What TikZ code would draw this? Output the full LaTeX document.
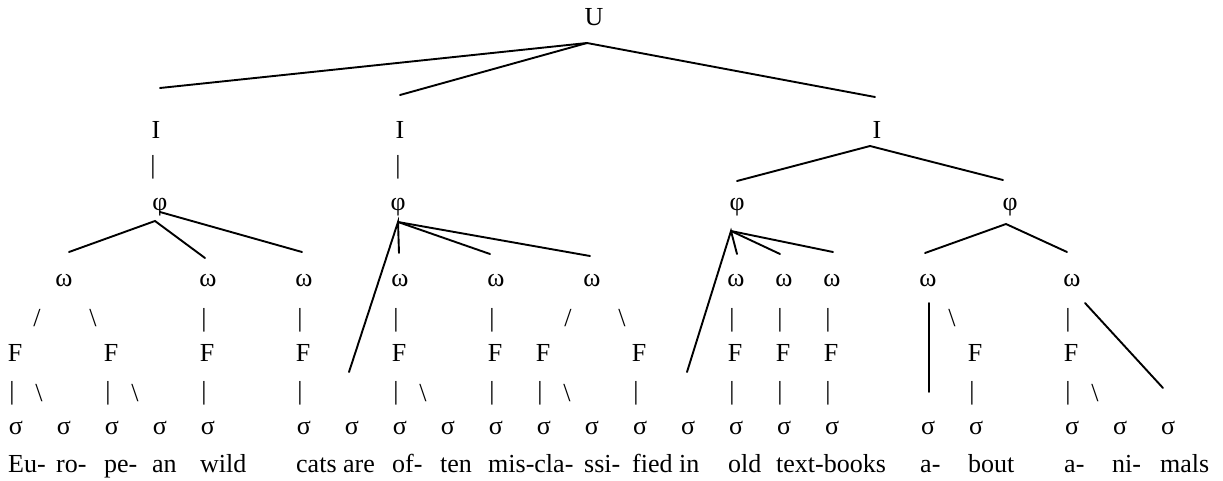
\documentclass[tikz,border=0pt]{standalone}
\usepackage{fontspec}
\setmainfont{Liberation Serif}

\begin{document}
\begin{tikzpicture}[x=1pt,y=-1pt,
    lab/.style={inner sep=0pt, font=\fontsize{26}{30}\selectfont},
    word/.style={inner sep=0pt, anchor=base west, font=\fontsize{26}{30}\selectfont},
    branch/.style={line width=1.9pt, line cap=round}]
    \path[use as bounding box] (0,0) rectangle (1223,480);

    % Upper levels
    \node[lab] (U) at (594,17) {U};
    \node[lab] (I1) at (156,130) {I};
    \node[lab] (I2) at (400,130) {I};
    \node[lab] (I3) at (877,130) {I};
    \node[lab] (ib1) at (153,167) {|};
    \node[lab] (ib2) at (398,167) {|};
    \node[lab] (p1) at (160,207) {φ};
    \node[lab] (p2) at (398,207) {φ};
    \node[lab] (p3) at (737,207) {φ};
    \node[lab] (p4) at (1010,207) {φ};

    % Words (omega) and the typed marks below them
    \foreach \k in {1,4,6,8,10,12,15,16,17,19,22} {
        \node[lab] (w\k) at ({16+48*\k},281) {ω};
    }
    \foreach \k in {4,6,8,10,15,16,17,22} {
        \node[lab] (wb\k) at ({12+48*\k},320) {|};
    }
    \node[lab] (sl1) at (37,318) {/};
    \node[lab] (bs1) at (93,318) {\textbackslash};
    \node[lab] (sl2) at (568,318) {/};
    \node[lab] (bs2) at (622,318) {\textbackslash};
    \node[lab] (bs3) at (952,318) {\textbackslash};

    % Feet and syllables
    \foreach \k in {0,2,4,6,8,10,11,13,15,16,17,20,22} {
        \node[lab] (f\k) at ({15+48*\k},353) {F};
        \node[lab] (fb\k) at ({12+48*\k},393) {|};
    }
    \foreach \k in {0,2,8,11,22} {
        \node[lab] (fs\k) at ({39+48*\k},393) {\textbackslash};
    }
    \foreach \k in {0,1,2,3,4,6,7,...,17,19,20,22,23,24} {
        \node[lab] (s\k) at ({16+48*\k},428) {σ};
    }
    \foreach \k/\w in {0/Eu-,1/ro-,2/pe-,3/an,4/wild,6/cats are,8/of-,9/ten,
        10/mis-cla-,12/ssi-,13/fied in,15/old,16/text-books,19/a-,20/bout,
        22/a-,23/ni-,24/mals} {
        \node[word] (t\k) at ({8+48*\k},472) {\w};
    }

    % Branch points and loose ends
    \coordinate (ua) at (587,43);
    \coordinate (ue1) at (160,88);
    \coordinate (ue2) at (400,95);
    \coordinate (ue3) at (875,97);
    \coordinate (ia) at (870,146);
    \coordinate (ie1) at (737,181);
    \coordinate (ie2) at (1003,180);
    \coordinate (pa1) at (155,221);
    \coordinate (pa2) at (398,222);
    \coordinate (pa3) at (731,231);
    \coordinate (pa4) at (1006,224);

    % Draw branches
    \draw[branch] (ue1) -- (ua) -- (ue3);
    \draw[branch] (ua) -- (ue2);
    \draw[branch] (ie1) -- (ia) -- (ie2);
    \draw[branch] (69,252) -- (pa1) -- (205,258);
    \draw[branch] (160,212) -- (302,252);
    \draw[branch] (349,372) -- (pa2) -- (399,253);
    \draw[branch] (pa2) -- (490,254);
    \draw[branch] (pa2) -- (590,256);
    \draw[branch] (687,372) -- (pa3) -- (737,254);
    \draw[branch] (pa3) -- (780,254);
    \draw[branch] (pa3) -- (833,252);
    \draw[branch] (925,253) -- (pa4) -- (1067,252);
    \draw[branch] (929,303) -- (929,392);
    \draw[branch] (1085,303) -- (1163,388);

\end{tikzpicture}
\end{document}
